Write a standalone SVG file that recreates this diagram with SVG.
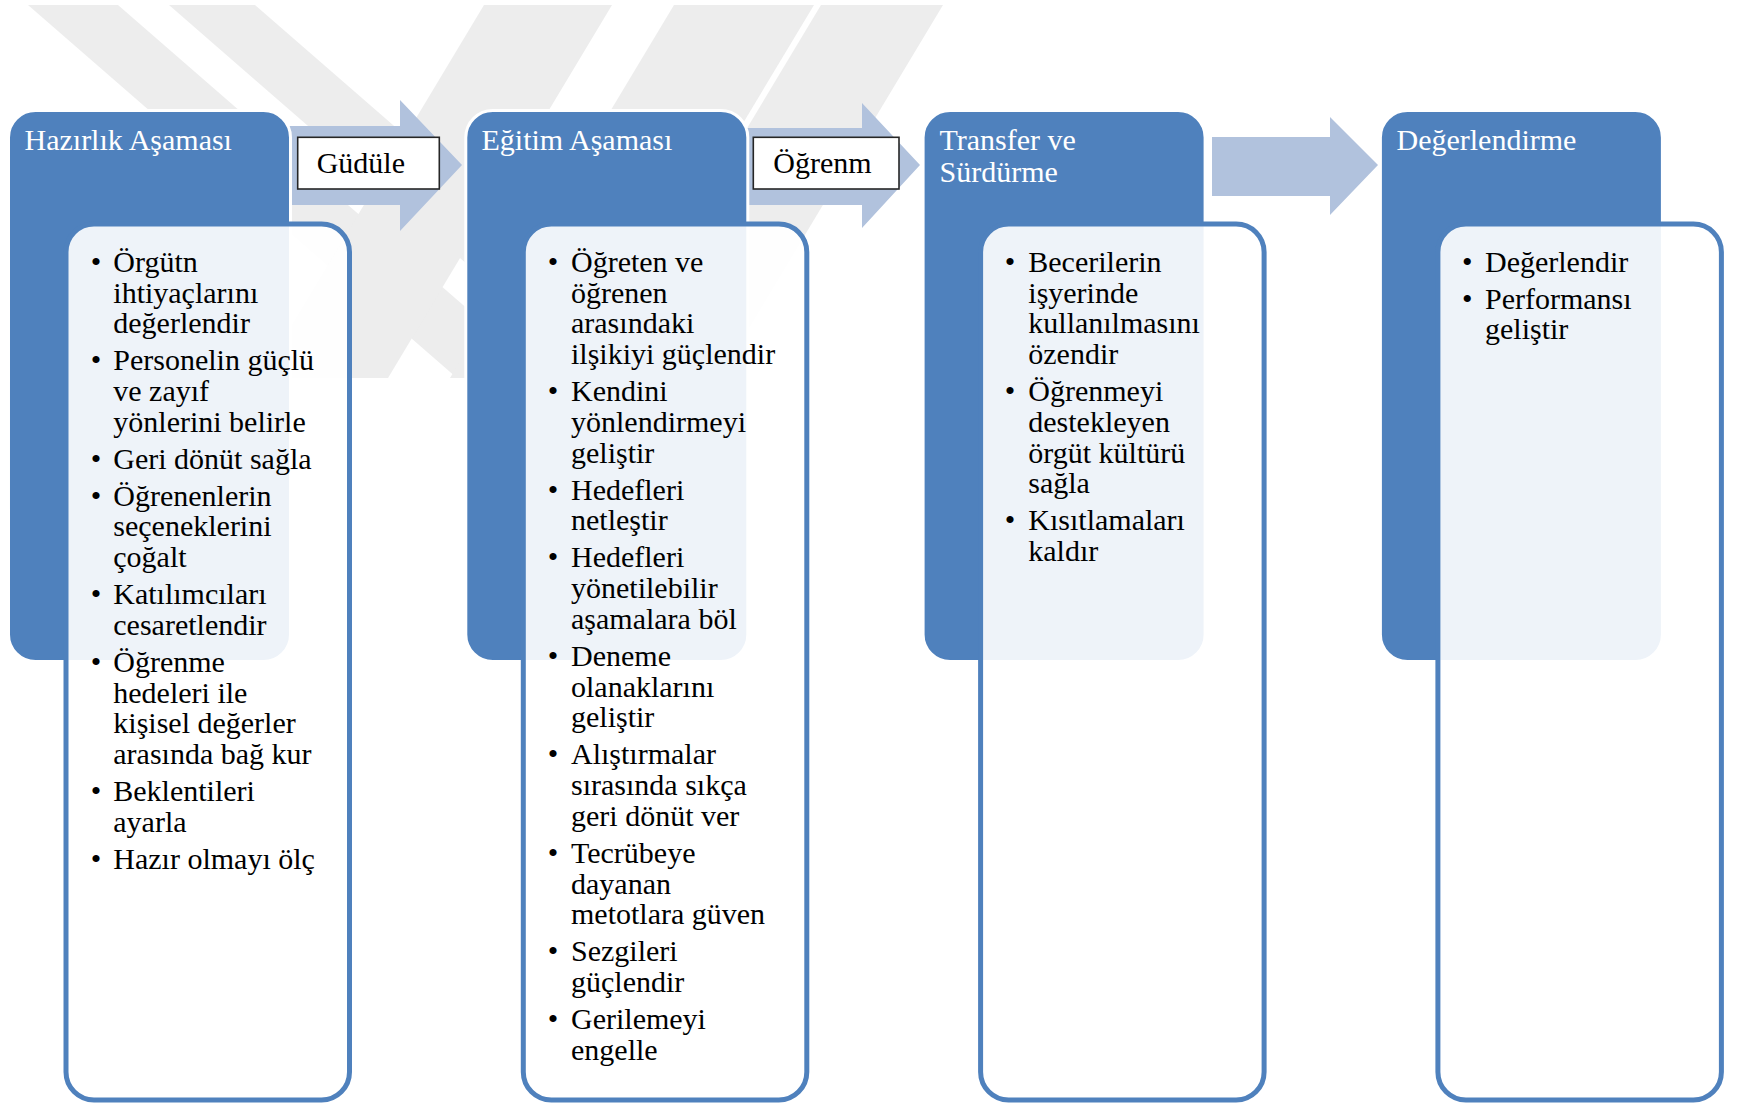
<svg xmlns="http://www.w3.org/2000/svg" width="1737" height="1105" viewBox="0 0 1737 1105">
  <defs>
    <style>
      .wm { fill: #EDEDED; }
      .arrow { fill: #B1C2DD; }
      .hdr { fill: #4F81BD; stroke: #FFFFFF; stroke-width: 3; }
      .card { fill: #FFFFFF; fill-opacity: 0.9; stroke: #4F81BD; stroke-width: 5; }
      .ht { font-family: "Liberation Serif", "Times New Roman", serif; font-size: 30px; fill: #FFFFFF; }
      .bt { font-family: "Liberation Serif", "Times New Roman", serif; font-size: 30px; fill: #000000; }
      .bul { font-family: "Liberation Serif", "Times New Roman", serif; font-size: 30px; fill: #000000; text-anchor: middle; }
      .lbl { fill: #FFFFFF; stroke: #262626; stroke-width: 1.6; }
      .lt { font-family: "Liberation Serif", "Times New Roman", serif; font-size: 30px; fill: #000000; }
    </style>
    <clipPath id="wmClip">
      <rect x="0" y="5" width="1000" height="373"/>
    </clipPath>
  </defs>

  <rect x="0" y="0" width="1737" height="1105" fill="#FFFFFF"/>

  <!-- faint background emblem: diagonal bands -->
  <g id="watermark" clip-path="url(#wmClip)">
    <polygon class="wm" points="28,5 118,5 547,378 457,378"/>
    <polygon class="wm" points="169,5 255,5 684,378 598,378"/>
    <polygon class="wm" points="484,5 612,5 388,378 260,378"/>
    <polygon class="wm" points="674,5 814,5 590,378 450,378"/>
    <polygon class="wm" points="821,5 943,5 719,378 597,378"/>
  </g>

  <!-- block arrows between the stages, with their labels -->
  <g id="connectors">
    <polygon class="arrow" points="284,126 400,126 400,100 462,165 400,231 400,205 284,205"/>
    <polygon class="arrow" points="742,128 862,128 862,103 920,165 862,228 862,205 742,205"/>
    <polygon class="arrow" points="1212,137 1330,137 1330,117 1378,165 1330,215 1330,196 1212,196"/>
    <g id="label-gudule">
      <rect class="lbl" x="297.7" y="137.3" width="141.6" height="51.7"/>
      <text class="lt" x="316.7" y="172.7">Güdüle</text>
    </g>
    <g id="label-ogrenm">
      <rect class="lbl" x="753.3" y="137.3" width="145.7" height="51.7"/>
      <text class="lt" x="773.3" y="172.7">Öğrenm</text>
    </g>
  </g>

  <!-- stage 1 -->
  <g id="stage-hazirlik">
    <rect class="hdr" x="8.5" y="110.5" width="282" height="551" rx="27"/>
    <text class="ht" x="24.5" y="150">Hazırlık Aşaması</text>
    <rect class="card" x="66" y="224" width="283.5" height="876" rx="28"/>
    <g class="bt">
      <text x="113.3" y="271.7">Örgütn</text>
      <text x="113.3" y="302.5">ihtiyaçlarını</text>
      <text x="113.3" y="333.3">değerlendir</text>
      <text x="113.3" y="370.2">Personelin güçlü</text>
      <text x="113.3" y="401">ve zayıf</text>
      <text x="113.3" y="431.8">yönlerini belirle</text>
      <text x="113.3" y="468.7">Geri dönüt sağla</text>
      <text x="113.3" y="505.6">Öğrenenlerin</text>
      <text x="113.3" y="536.4">seçeneklerini</text>
      <text x="113.3" y="567.2">çoğalt</text>
      <text x="113.3" y="604.1">Katılımcıları</text>
      <text x="113.3" y="634.9">cesaretlendir</text>
      <text x="113.3" y="671.8">Öğrenme</text>
      <text x="113.3" y="702.6">hedeleri ile</text>
      <text x="113.3" y="733.4">kişisel değerler</text>
      <text x="113.3" y="764.2">arasında bağ kur</text>
      <text x="113.3" y="801.1">Beklentileri</text>
      <text x="113.3" y="831.9">ayarla</text>
      <text x="113.3" y="868.8">Hazır olmayı ölç</text>
    </g>
    <g class="bul">
      <text x="96" y="271.7">•</text>
      <text x="96" y="370.2">•</text>
      <text x="96" y="468.7">•</text>
      <text x="96" y="505.6">•</text>
      <text x="96" y="604.1">•</text>
      <text x="96" y="671.8">•</text>
      <text x="96" y="801.1">•</text>
      <text x="96" y="868.8">•</text>
    </g>
  </g>

  <!-- stage 2 -->
  <g id="stage-egitim">
    <rect class="hdr" x="465.8" y="110.5" width="282" height="551" rx="27"/>
    <text class="ht" x="481.5" y="150">Eğitim Aşaması</text>
    <rect class="card" x="523.3" y="224" width="283.5" height="876" rx="28"/>
    <g class="bt">
      <text x="571" y="271.7">Öğreten ve</text>
      <text x="571" y="302.5">öğrenen</text>
      <text x="571" y="333.3">arasındaki</text>
      <text x="571" y="364.1">ilşikiyi güçlendir</text>
      <text x="571" y="401">Kendini</text>
      <text x="571" y="431.8">yönlendirmeyi</text>
      <text x="571" y="462.6">geliştir</text>
      <text x="571" y="499.5">Hedefleri</text>
      <text x="571" y="530.3">netleştir</text>
      <text x="571" y="567.2">Hedefleri</text>
      <text x="571" y="598">yönetilebilir</text>
      <text x="571" y="628.8">aşamalara böl</text>
      <text x="571" y="665.7">Deneme</text>
      <text x="571" y="696.5">olanaklarını</text>
      <text x="571" y="727.3">geliştir</text>
      <text x="571" y="764.2">Alıştırmalar</text>
      <text x="571" y="795">sırasında sıkça</text>
      <text x="571" y="825.8">geri dönüt ver</text>
      <text x="571" y="862.7">Tecrübeye</text>
      <text x="571" y="893.5">dayanan</text>
      <text x="571" y="924.3">metotlara güven</text>
      <text x="571" y="961.2">Sezgileri</text>
      <text x="571" y="992">güçlendir</text>
      <text x="571" y="1028.9">Gerilemeyi</text>
      <text x="571" y="1059.7">engelle</text>
    </g>
    <g class="bul">
      <text x="553" y="271.7">•</text>
      <text x="553" y="401">•</text>
      <text x="553" y="499.5">•</text>
      <text x="553" y="567.2">•</text>
      <text x="553" y="665.7">•</text>
      <text x="553" y="764.2">•</text>
      <text x="553" y="862.7">•</text>
      <text x="553" y="961.2">•</text>
      <text x="553" y="1028.9">•</text>
    </g>
  </g>

  <!-- stage 3 -->
  <g id="stage-transfer">
    <rect class="hdr" x="923.1" y="110.5" width="282" height="551" rx="27"/>
    <text class="ht" x="939.5" y="150">Transfer ve</text>
    <text class="ht" x="939.5" y="181.7">Sürdürme</text>
    <rect class="card" x="980.6" y="224" width="283.5" height="876" rx="28"/>
    <g class="bt">
      <text x="1028.3" y="271.7">Becerilerin</text>
      <text x="1028.3" y="302.5">işyerinde</text>
      <text x="1028.3" y="333.3">kullanılmasını</text>
      <text x="1028.3" y="364.1">özendir</text>
      <text x="1028.3" y="401">Öğrenmeyi</text>
      <text x="1028.3" y="431.8">destekleyen</text>
      <text x="1028.3" y="462.6">örgüt kültürü</text>
      <text x="1028.3" y="493.4">sağla</text>
      <text x="1028.3" y="530.3">Kısıtlamaları</text>
      <text x="1028.3" y="561.1">kaldır</text>
    </g>
    <g class="bul">
      <text x="1010" y="271.7">•</text>
      <text x="1010" y="401">•</text>
      <text x="1010" y="530.3">•</text>
    </g>
  </g>

  <!-- stage 4 -->
  <g id="stage-degerlendirme">
    <rect class="hdr" x="1380.4" y="110.5" width="282" height="551" rx="27"/>
    <text class="ht" x="1396.5" y="150">Değerlendirme</text>
    <rect class="card" x="1437.9" y="224" width="283.5" height="876" rx="28"/>
    <g class="bt">
      <text x="1485" y="271.7">Değerlendir</text>
      <text x="1485" y="308.6">Performansı</text>
      <text x="1485" y="339.4">geliştir</text>
    </g>
    <g class="bul">
      <text x="1467.3" y="271.7">•</text>
      <text x="1467.3" y="308.6">•</text>
    </g>
  </g>
</svg>
